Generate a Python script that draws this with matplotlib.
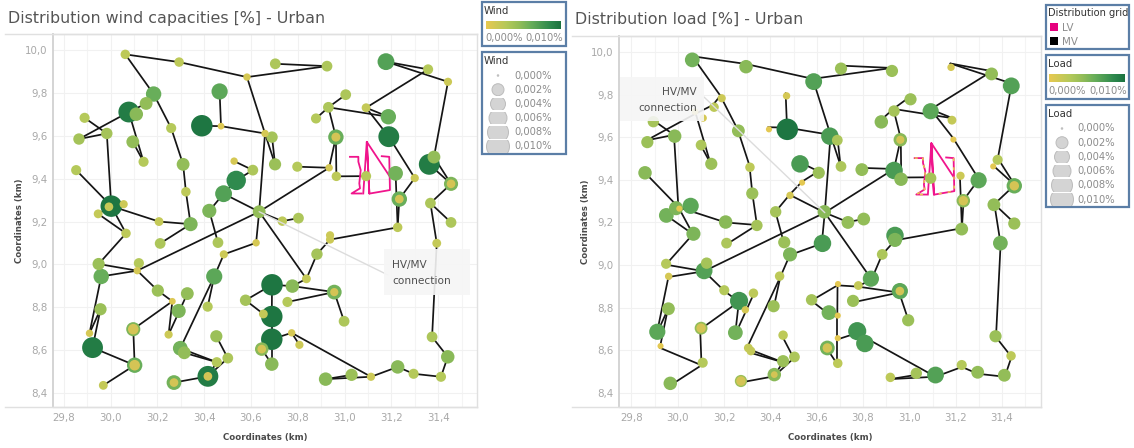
import matplotlib
matplotlib.use('Agg')
import matplotlib.pyplot as plt
import numpy as np
from matplotlib.colors import LinearSegmentedColormap
from matplotlib.patches import Rectangle, Ellipse

# grid nodes (km), wind and load shares (%)
grid_x = [30.063,30.293,30.583,30.704,30.925,31.177,31.357,31.442,30.184,30.152,30.078,30.110,29.889,29.865,29.984,30.095,
          30.141,30.259,30.31,30.322,29.853,30.466,30.39,30.472,30.66,30.69,30.703,30.528,30.608,30.537,30.483,30.422,
          30.635,30.003,29.993,30.056,29.947,30.066,30.207,30.342,30.212,30.459,30.622,30.484,29.949,29.96,30.121,30.114,
          30.202,30.443,30.264,30.328,30.291,30.415,29.957,30.577,30.097,29.91,30.248,30.452,29.923,30.298,30.315,30.501,
          30.454,30.103,30.416,30.271,29.969,30.69,30.777,30.837,30.882,30.938,30.938,30.956,30.756,30.653,30.689,30.998,
          30.689,30.774,30.807,30.646,30.689,30.919,31.03,31.113,31.227,31.295,31.412,31.441,31.374,31.394,31.227,31.005,
          30.931,30.878,31.092,31.187,31.189,30.963,30.798,30.934,30.965,31.092,31.218,31.30,31.382,31.362,31.455,31.234,
          31.367,31.455,30.734,30.803]
grid_y = [9.98,9.944,9.874,9.936,9.925,9.946,9.91,9.852,9.795,9.751,9.711,9.701,9.684,9.585,9.611,9.572,
          9.479,9.636,9.467,9.339,9.44,9.807,9.647,9.645,9.611,9.594,9.467,9.482,9.44,9.392,9.33,9.25,
          9.246,9.272,9.269,9.281,9.236,9.145,9.2,9.188,9.098,9.102,9.101,9.047,9.002,8.944,9.006,8.971,
          8.878,8.944,8.828,8.864,8.783,8.803,8.791,8.833,8.698,8.679,8.673,8.665,8.612,8.609,8.588,8.563,
          8.544,8.53,8.478,8.449,8.436,8.905,8.899,8.933,9.048,9.136,9.116,8.871,8.825,8.769,8.757,8.735,
          8.651,8.681,8.625,8.605,8.535,8.465,8.485,8.476,8.522,8.49,8.476,8.569,8.662,9.099,9.173,9.792,
          9.733,9.681,9.731,9.689,9.596,9.594,9.456,9.451,9.411,9.412,9.425,9.403,9.501,9.467,9.376,9.305,
          9.286,9.196,9.202,9.216]
wind = [.0023,.0023,.0010,.0031,.0031,.0069,.0027,.0015,.0060,.0044,.0094,.0048,.0027,.0035,.0035,.0044,
        .0027,.0027,.0044,.0023,.0027,.0065,.0098,.0006,.0010,.0035,.0040,.0010,.0031,.0085,.0069,.0052,
        .0044,.0098,.0018,.0015,.0019,.0023,.0019,.0052,.0031,.0031,.0010,.0015,.0040,.0060,.0027,.0010,
        .0040,.0065,.0006,.0044,.0052,.0027,.0040,.0035,.0052,.0010,.0015,.0040,.0094,.0056,.0044,.0031,
        .0027,.0060,.0094,.0056,.0019,.0098,.0048,.0019,.0035,.0015,.0015,.0056,.0027,.0019,.0098,.0031,
        .0098,.0010,.0015,.0048,.0048,.0048,.0040,.0015,.0048,.0027,.0027,.0048,.0031,.0019,.0023,.0031,
        .0031,.0027,.0019,.0060,.0094,.0060,.0027,.0010,.0023,.0027,.0056,.0015,.0044,.0094,.0052,.0060,
        .0031,.0031,.0023,.0031]
wind_inner_nodes = [56,65,66,67,75,83,101,110,111]
wind_inner = [.0030,.0030,.0018,.0018,.0015,.0018,.0020,.0018,.0018]

load_x = [30.063,30.295,30.587,30.705,30.925,31.18,31.355,31.44,30.19,30.157,30.075,30.11,29.895,29.869,29.987,30.101,
          30.145,30.262,30.312,30.322,29.859,30.47,30.394,30.473,30.657,30.689,30.705,30.528,30.609,30.537,30.485,30.423,
          30.633,29.993,30.007,30.056,29.951,30.068,30.207,30.342,30.211,30.46,30.625,30.485,29.95,29.961,30.125,30.114,
          30.201,30.44,30.265,30.327,30.292,30.414,29.96,30.578,30.101,29.912,30.249,30.455,29.926,30.305,30.316,30.504,
          30.455,30.108,30.417,30.273,29.968,30.692,30.78,30.834,30.883,30.938,30.938,30.959,30.757,30.653,30.691,30.995,
          30.691,30.775,30.808,30.646,30.691,30.918,31.03,31.113,31.226,31.295,31.41,31.439,31.372,31.393,31.226,31.005,
          30.934,30.879,31.092,31.184,31.19,30.961,30.795,30.934,30.964,31.092,31.221,31.299,31.381,31.362,31.453,31.233,
          31.365,31.453,30.735,30.803]
load_y = [9.963,9.931,9.861,9.922,9.911,9.928,9.897,9.841,9.783,9.741,9.72,9.69,9.673,9.577,9.605,9.563,
          9.475,9.63,9.459,9.336,9.433,9.794,9.637,9.637,9.605,9.586,9.463,9.475,9.433,9.387,9.327,9.25,
          9.25,9.267,9.265,9.278,9.233,9.147,9.202,9.186,9.103,9.107,9.102,9.05,9.006,8.947,9.009,8.973,
          8.882,8.948,8.832,8.868,8.79,8.807,8.795,8.837,8.704,8.687,8.683,8.671,8.62,8.611,8.597,8.569,
          8.549,8.542,8.486,8.456,8.445,8.911,8.904,8.936,9.05,9.139,9.118,8.878,8.832,8.777,8.763,8.741,
          8.657,8.69,8.632,8.611,8.539,8.473,8.492,8.484,8.531,8.497,8.483,8.574,8.666,9.103,9.169,9.778,
          9.723,9.672,9.722,9.68,9.589,9.588,9.448,9.444,9.403,9.408,9.419,9.398,9.494,9.463,9.372,9.302,
          9.283,9.195,9.2,9.216]
load = [.0056,.0048,.0069,.0040,.0040,.0010,.0044,.0069,.0015,.0023,.0006,.0010,.0035,.0040,.0048,.0031,
        .0040,.0044,.0023,.0040,.0048,.0010,.0002,.0098,.0073,.0031,.0031,.0073,.0040,.0002,.0010,.0035,
        .0048,.0052,.0002,.0065,.0056,.0052,.0048,.0035,.0031,.0040,.0073,.0052,.0027,.0010,.0035,.0069,
        .0027,.0023,.0077,.0023,.0010,.0040,.0044,.0035,.0044,.0065,.0056,.0023,.0002,.0019,.0019,.0031,
        .0040,.0027,.0048,.0040,.0048,.0002,.0019,.0065,.0031,.0073,.0052,.0065,.0040,.0056,.0002,.0040,
        .0002,.0077,.0073,.0056,.0023,.0023,.0035,.0069,.0027,.0044,.0044,.0023,.0040,.0056,.0044,.0040,
        .0035,.0048,.0065,.0019,.0002,.0048,.0044,.0073,.0048,.0035,.0015,.0065,.0027,.0002,.0060,.0048,
        .0044,.0040,.0044,.0044]
load_inner_nodes = [56,66,67,75,83,101,110,111]
load_inner = [.0023,.0006,.0023,.0018,.0023,.0015,.0023,.0023]

# MV lines, pairs of node numbers
edges = [(0,1),(1,2),(2,4),(3,4),(0,8),(8,17),(17,18),(18,19),(19,39),(8,9),(9,10),(10,13),(13,14),(12,14),
         (14,33),(10,16),(15,16),(20,33),(33,36),(36,37),(33,37),(33,38),(38,39),(37,44),(44,47),(45,47),(47,32),
         (47,48),(48,50),(50,56),(50,58),(51,58),(56,65),(65,60),(65,68),(45,57),(54,57),(54,60),(39,40),(31,41),
         (31,30),(30,29),(29,28),(27,28),(30,32),(32,42),(42,43),(43,49),(49,53),(49,61),(61,64),(62,64),(59,63),
         (63,66),(64,66),(66,67),(32,24),(24,26),(25,26),(24,2),(24,23),(23,22),(23,21),(32,103),(32,114),(114,115),
         (32,71),(71,72),(72,74),(74,94),(94,111),(94,106),(111,107),(107,100),(100,98),(98,99),(96,99),(98,6),(5,6),
         (5,7),(7,108),(108,110),(109,110),(110,112),(112,113),(112,93),(93,92),(92,91),(91,90),(90,89),(89,88),
         (88,87),(87,85),(86,85),(87,81),(81,80),(81,82),(80,84),(83,84),(78,80),(69,78),(69,70),(70,75),(76,75),
         (75,79),(70,71),(69,55),(55,77),(77,78),(95,96),(96,97),(96,101),(101,103),(101,104),(102,103),(104,105)]

# LV network outlines (km)
lv_left_x = [31.023,31.059,31.059,31.069,31.063,31.066,31.030,31.073]
lv_left_y = [9.502,9.502,9.479,9.44,9.378,9.355,9.331,9.331]
lv_mid_x = [31.080,31.095,31.106,31.095,31.194]
lv_mid_y = [9.331,9.572,9.331,9.572,9.409]
lv_right_x = [31.159,31.191,31.194,31.109]
lv_right_y = [9.505,9.502,9.347,9.331]

x_ticks = [29.8,30.0,30.2,30.4,30.6,30.8,31.0,31.2,31.4]
x_labels = ['29,8','30,0','30,2','30,4','30,6','30,8','31,0','31,2','31,4']
y_ticks = [8.4,8.6,8.8,9.0,9.2,9.4,9.6,9.8,10.0]
y_labels = ['8,4','8,6','8,8','9,0','9,2','9,4','9,6','9,8','10,0']
size_labels = ['0,000%','0,002%','0,004%','0,006%','0,008%','0,010%']
size_widths = [1.5,12,15,18,21,23]

W, H = 1134, 448
cmap = LinearSegmentedColormap.from_list('wind', [(0,'#e8c850'),(.27,'#b5c95a'),(.44,'#93bd58'),
                                                  (.6,'#68ae5a'),(.85,'#2f8a4e'),(1,'#1b7340')])
PINK = '#f0148c'


def marker_area(v):
    # node diameter in pixels grows with the share, scatter wants points^2
    d = 5.8 + 16 * np.asarray(v) / 0.01
    return (d * 0.72) ** 2


def panel(box, xlim, ylim, title_xy, title, xs, ys, vals, inner_nodes, inner_vals, gold):
    left, top, right, bottom = box
    ax = fig.add_axes([left / W, 1 - bottom / H, (right - left) / W, (bottom - top) / H], zorder=1)
    ax.set_xlim(xlim)
    ax.set_ylim(ylim)
    for a, b in edges:
        ax.plot([grid_x[a], grid_x[b]], [grid_y[a], grid_y[b]], color='#151515', lw=1.25, zorder=2,
                solid_capstyle='round')
    for lx, ly in [(lv_left_x, lv_left_y), (lv_mid_x, lv_mid_y), (lv_right_x, lv_right_y)]:
        ax.plot(lx, ly, color=PINK, lw=1.3, zorder=2.5)
    if gold:
        ax.plot(lv_left_x, lv_left_y, color='#e8c850', lw=1.1, ls=(0, (2, 3)), zorder=2.6)
        ax.plot(lv_right_x[1:], lv_right_y[1:], color='#e8c850', lw=1.1, ls=(0, (2, 4)), zorder=2.6)
    order = np.argsort(-np.array(vals))
    ax.scatter(np.array(xs)[order], np.array(ys)[order], s=marker_area(np.array(vals)[order]),
               c=np.array(vals)[order], cmap=cmap, vmin=0, vmax=0.01, linewidths=0, zorder=3)
    ax.scatter(np.array(xs)[inner_nodes], np.array(ys)[inner_nodes], s=marker_area(inner_vals),
               c='#d4c455', linewidths=0, zorder=4)
    ax.set_xticks(x_ticks, x_labels)
    ax.set_yticks(y_ticks, y_labels)
    ax.set_xticks(np.arange(29.8, 31.55, 0.1), minor=True)
    ax.tick_params(which='both', length=0)
    ax.tick_params(axis='both', labelsize=7.4, labelcolor='#a8a8a8', pad=4)
    ax.grid(which='major', color='#f1f1f1', lw=0.8, zorder=0)
    ax.grid(which='minor', axis='x', color='#f4f4f4', lw=0.8, zorder=0)
    ax.set_axisbelow(True)
    for side in ax.spines:
        ax.spines[side].set_color('#e0e0e0')
        ax.spines[side].set_linewidth(1)
    ax.spines['left'].set_color('#d4d4d4')
    ax.spines['left'].set_linewidth(1.4)
    ax.set_xlabel('Coordinates (km)', fontsize=6.2, fontweight='bold', color='#4a4a4a', labelpad=7.5)
    ax.set_ylabel('Coordinates (km)', fontsize=6.2, fontweight='bold', color='#4a4a4a', labelpad=1)
    over.plot([title_xy[0] - 3, right], [top, top], color='#e0e0e0', lw=1)
    over.plot([title_xy[0] - 3, right], [bottom, bottom], color='#e0e0e0', lw=1)
    over.text(title_xy[0], title_xy[1], title, fontsize=11.4, color='#555555', va='center', ha='left')
    return ax


def frame(x0, y0, x1, y1):
    over.add_patch(Rectangle((x0, y0), x1 - x0, y1 - y0, fc='white', ec='#5b7ea6', lw=1.6, zorder=6))


def colour_legend(x0, y0, x1, y1, name, gx0, gx1):
    frame(x0, y0, x1, y1)
    over.text(x0 + 2, y0 + 9, name, fontsize=7.3, color='#333333', va='center', zorder=7)
    grad = np.linspace(0, 1, 256).reshape(1, -1)
    over.imshow(grad, cmap=cmap, extent=(gx0, gx1, y0 + 27, y0 + 19), aspect='auto', zorder=7)
    over.text(gx0 - 1, y0 + 36, '0,000%', fontsize=7.2, color='#8c8c8c', va='center', zorder=7)
    over.text(gx1 + 2, y0 + 36, '0,010%', fontsize=7.2, color='#8c8c8c', va='center', ha='right', zorder=7)


def size_legend(x0, y0, x1, y1, name, mark_x, text_x):
    frame(x0, y0, x1, y1)
    over.text(x0 + 2, y0 + 9, name, fontsize=7.3, color='#333333', va='center', zorder=7)
    for i, (lab, w) in enumerate(zip(size_labels, size_widths)):
        yc = y0 + 23.5 + i * 14.2
        e = Ellipse((mark_x, yc), w, min(w, 28), fc='#d4d4d4', ec='#bcbcbc', lw=0.7, zorder=7)
        over.add_patch(e)
        e.set_clip_path(Rectangle((mark_x - 20, yc - 6.3), 40, 12.6, transform=over.transData))
        over.text(text_x, yc, lab, fontsize=7.2, color='#8c8c8c', va='center', zorder=7)


fig = plt.figure(figsize=(W / 100, H / 100), dpi=100)
fig.patch.set_facecolor('white')
over = fig.add_axes([0, 0, 1, 1], zorder=5)
over.patch.set_alpha(0)

ax1 = panel((53, 34, 477, 407), (29.754, 31.566), (8.335, 10.075), (8, 18),
            'Distribution wind capacities [%] - Urban', grid_x, grid_y, wind, wind_inner_nodes, wind_inner, False)
ax2 = panel((619.3, 36, 1040.7, 407), (29.748, 31.567), (8.334, 10.075), (575, 19),
            'Distribution load [%] - Urban', load_x, load_y, load, load_inner_nodes, load_inner, True)

# HV/MV connection callouts
over.annotate('', xy=(grid_x[32], grid_y[32]), xycoords=ax1.transData, xytext=(388, 275), textcoords='data',
              arrowprops=dict(arrowstyle='-', color='#dcdcdc', lw=1, shrinkA=0, shrinkB=0), zorder=4)
over.add_patch(Rectangle((384, 249), 86, 46, fc='#f6f6f6', ec='none', alpha=0.9, zorder=4.5))
over.text(392, 273, 'HV/MV\nconnection', fontsize=7.6, color='#4f4f4f', va='center', ha='left', linespacing=1.7,
          zorder=5)
over.annotate('', xy=(grid_x[32], grid_y[32]), xycoords=ax2.transData, xytext=(704, 97), textcoords='data',
              arrowprops=dict(arrowstyle='-', color='#dcdcdc', lw=1, shrinkA=0, shrinkB=0), zorder=4)
over.add_patch(Rectangle((620, 77), 84, 44, fc='#f6f6f6', ec='none', alpha=0.9, zorder=4.5))
over.text(697, 100, 'HV/MV\nconnection', fontsize=7.6, color='#4f4f4f', va='center', ha='right', linespacing=1.7,
          multialignment='right', zorder=5)

# legends on the side of each map
colour_legend(482, 2, 566, 46, 'Wind', 486, 561)
size_legend(482, 52, 566, 154, 'Wind', 498, 514)

frame(1046, 5, 1129, 49)
over.text(1048, 13, 'Distribution grid', fontsize=7.1, color='#333333', va='center', zorder=7)
over.add_patch(Rectangle((1050, 23), 8, 8, fc='#e6007e', ec='none', zorder=7))
over.add_patch(Rectangle((1050, 37), 8, 8, fc='black', ec='none', zorder=7))
over.text(1062, 28, 'LV', fontsize=7.4, color='#8c8c8c', va='center', zorder=7)
over.text(1062, 42, 'MV', fontsize=7.4, color='#8c8c8c', va='center', zorder=7)
colour_legend(1046, 55, 1129, 99, 'Load', 1049, 1125)
size_legend(1046, 105, 1129, 207, 'Load', 1062, 1077)

over.set_xlim(0, W)
over.set_ylim(H, 0)
over.axis('off')

fig.savefig('out.png', dpi=100)
